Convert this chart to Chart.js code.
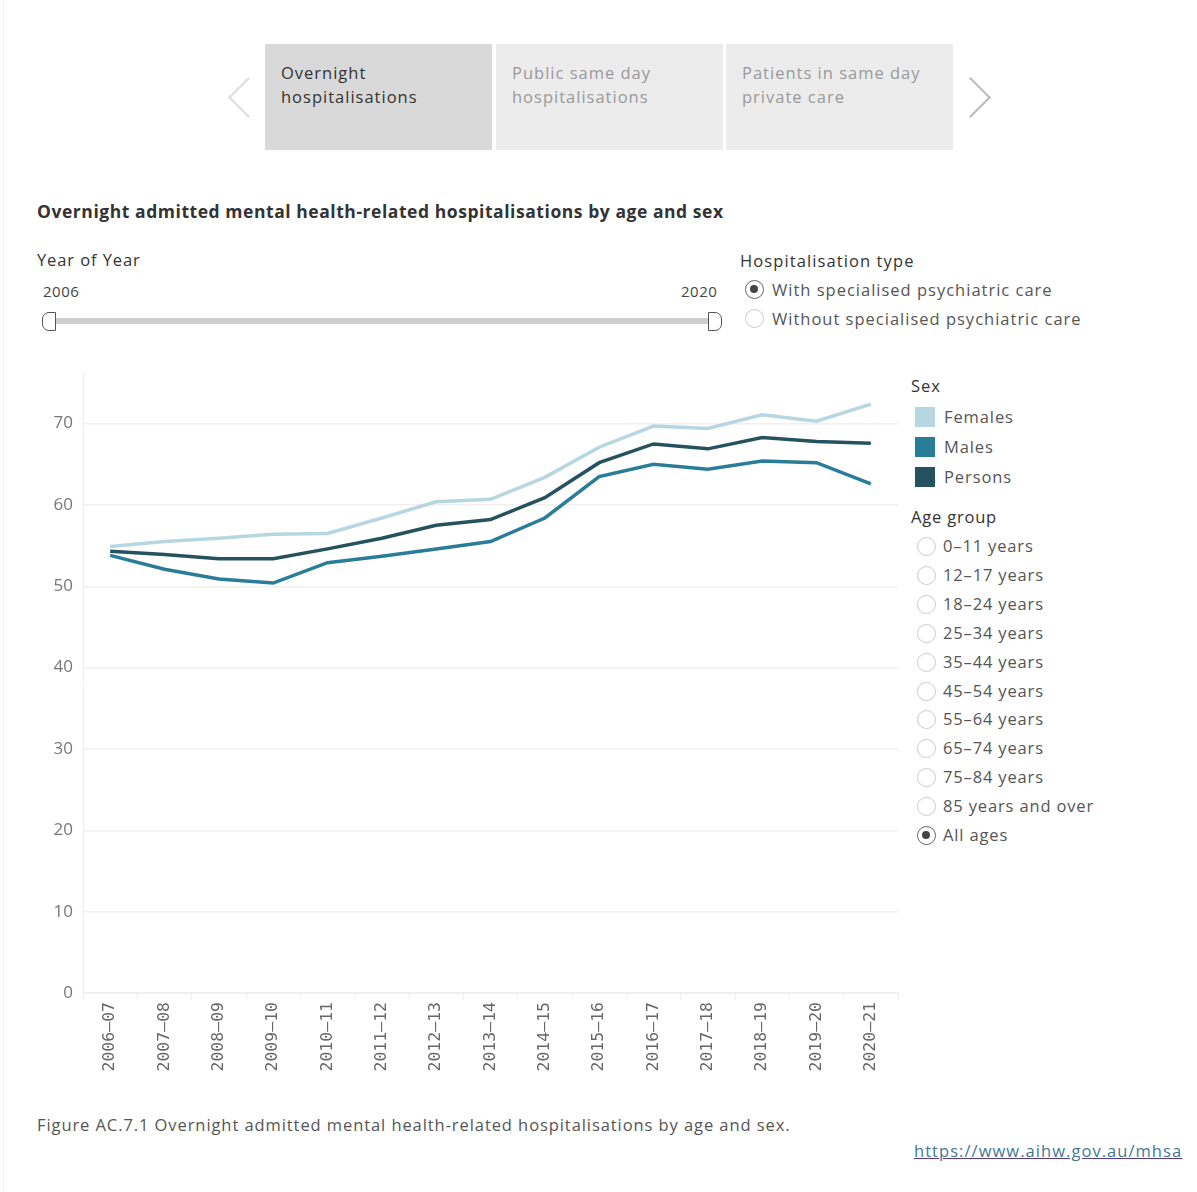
<!DOCTYPE html>
<html lang="en">
<head>
<meta charset="UTF-8">
<title>Overnight admitted mental health-related hospitalisations</title>
<script src="https://cdn.jsdelivr.net/npm/chart.js"></script>
<style>
  body { margin: 0; background: #fff; font-family: "Open Sans", Lato, sans-serif; color: #333; }
  .page { position: relative; width: 1197px; height: 1192px; overflow: hidden; }
  .frame { position: absolute; left: 3px; top: -2px; width: 1300px; height: 1300px; border: 1px solid #f0f0f0; }
  .abs { position: absolute; white-space: nowrap; }
  .tab { position: absolute; top: 44px; width: 227px; height: 106px; background: #ececec; color: #999; font-size: 16.5px; line-height: 24px; box-sizing: border-box; padding: 17px 16px; letter-spacing: 1px; }
  .tab.on { background: #d9d9d9; color: #333; }
  .chev { position: absolute; width: 27px; height: 27px; border-left: 2.5px solid #ddd; border-bottom: 2.5px solid #ddd; }
  .radio { position: absolute; width: 19px; height: 19px; border: 1.5px solid #ccc; border-radius: 50%; box-sizing: border-box; background: #fff; }
  .radio.on { border-color: #666; }
  .radio.on::after { content: ""; position: absolute; left: 4px; top: 4px; width: 8px; height: 8px; border-radius: 50%; background: #444; }
  .swatch { position: absolute; width: 20px; height: 20px; }
  #chartBox { position: absolute; left: 30px; top: 353px; width: 880px; height: 727px; }
</style>
</head>
<body>
<div class="page">
  <div class="frame"></div>

  <div class="chev" style="left:234px; top:83px; transform:rotate(45deg);"></div>
  <div class="tab on" style="left:265px;">Overnight<br>hospitalisations</div>
  <div class="tab" style="left:496px;">Public same day<br>hospitalisations</div>
  <div class="tab" style="left:726px;">Patients in same day<br>private care</div>
  <div class="chev" style="left:956px; top:83px; transform:rotate(225deg); border-color:#bbb;"></div>

  <div class="abs" style="left:37px; top:199px; font-size:17.5px; font-weight:bold; color:#333; letter-spacing:0.55px;">Overnight admitted mental health-related hospitalisations by age and sex</div>

  <div class="abs" style="left:37px; top:248px; font-size:16.5px; letter-spacing:0.9px;">Year of Year</div>
  <div class="abs" style="left:43px; top:281px; font-size:15px; color:#444; letter-spacing:0.5px;">2006</div>
  <div class="abs" style="left:681px; top:281px; font-size:15px; color:#444; letter-spacing:0.5px;">2020</div>
  <div class="abs" style="left:48px; top:318px; width:666px; height:6px; background:#cfcfcf;"></div>
  <div class="abs" style="left:42px; top:312px; width:12px; height:17px; border:1.5px solid #555; border-radius:7px 0 0 7px; background:#fff;"></div>
  <div class="abs" style="left:708px; top:312px; width:12px; height:17px; border:1.5px solid #555; border-radius:0 7px 7px 0; background:#fff;"></div>

  <div class="abs" style="left:740px; top:249px; font-size:16.5px; letter-spacing:1.1px;">Hospitalisation type</div>
  <div class="radio on" style="left:745px; top:280px;"></div>
  <div class="abs" style="left:772px; top:278px; font-size:16.5px; color:#555; letter-spacing:1px;">With specialised psychiatric care</div>
  <div class="radio" style="left:745px; top:309px;"></div>
  <div class="abs" style="left:772px; top:307px; font-size:16.5px; color:#555; letter-spacing:1px;">Without specialised psychiatric care</div>

  <div id="chartBox"><canvas id="trendChart"></canvas></div>

  <div class="abs" style="left:911px; top:374px; font-size:16.5px; letter-spacing:1px;">Sex</div>
  <div id="sexLegend"></div>

  <div class="abs" style="left:911px; top:505px; font-size:16.5px; letter-spacing:0.8px;">Age group</div>
  <div id="ageLegend"></div>

  <div class="abs" style="left:37px; top:1113px; font-size:16.5px; color:#555; letter-spacing:0.92px;">Figure AC.7.1 Overnight admitted mental health-related hospitalisations by age and sex.</div>
  <div class="abs" style="left:914px; top:1139px; font-size:16.5px; color:#3f7899; letter-spacing:1.05px; text-decoration:underline; text-decoration-color:#5b3a8c;">https://www.aihw.gov.au/mhsa</div>
</div>

<script>
// financial years on the x axis
const years = ["2006–07", "2007–08", "2008–09", "2009–10", "2010–11", "2011–12", "2012–13",
               "2013–14", "2014–15", "2015–16", "2016–17", "2017–18", "2018–19", "2019–20", "2020–21"];

// rate per 10,000 population
const females = [54.9, 55.5, 55.9, 56.4, 56.5, 58.4, 60.4, 60.7, 63.4, 67.1, 69.7, 69.4, 71.1, 70.3, 72.4];
const males   = [53.8, 52.1, 50.9, 50.4, 52.9, 53.7, 54.6, 55.5, 58.4, 63.5, 65.0, 64.4, 65.4, 65.2, 62.6];
const persons = [54.3, 53.9, 53.4, 53.4, 54.6, 55.9, 57.5, 58.2, 60.9, 65.2, 67.5, 66.9, 68.3, 67.8, 67.6];

const sexLabels = ["Females", "Males", "Persons"];
const sexColours = ["#b6d7e1", "#2a7d98", "#25525f"];

const ageGroups = ["0–11 years", "12–17 years", "18–24 years", "25–34 years", "35–44 years", "45–54 years",
                   "55–64 years", "65–74 years", "75–84 years", "85 years and over", "All ages"];
const selectedAge = "All ages";

// legends on the right
const sexLegend = document.getElementById("sexLegend");
sexLabels.forEach((name, i) => {
    const top = 407 + i * 30;
    sexLegend.insertAdjacentHTML("beforeend",
        `<div class="swatch" style="left:915px; top:${top}px; background:${sexColours[i]};"></div>` +
        `<div class="abs" style="left:944px; top:${top - 2}px; font-size:16.5px; color:#555; letter-spacing:0.9px;">${name}</div>`);
});

const ageLegend = document.getElementById("ageLegend");
ageGroups.forEach((name, i) => {
    const top = 546 + i * 28.9;
    const on = name === selectedAge ? " on" : "";
    ageLegend.insertAdjacentHTML("beforeend",
        `<div class="radio${on}" style="left:917px; top:${top - 9}px;"></div>` +
        `<div class="abs" style="left:943px; top:${top - 12}px; font-size:16.5px; color:#555; letter-spacing:0.85px;">${name}</div>`);
});

// chart
const series = [females, males, persons];
new Chart(document.getElementById("trendChart"), {
    type: "line",
    data: {
        labels: years,
        datasets: series.map((values, i) => ({
            label: sexLabels[i],
            data: values,
            borderColor: sexColours[i],
            borderWidth: 3.5,
            pointRadius: 0,
            tension: 0,
            fill: false,
            order: i === 0 ? 3 : (i === 1 ? 2 : 1)
        }))
    },
    options: {
        responsive: true,
        maintainAspectRatio: false,
        animation: false,
        layout: { padding: { top: 5, right: 12, left: 0, bottom: 0 } },
        plugins: { legend: { display: false }, tooltip: { enabled: false } },
        scales: {
            x: {
                offset: true,
                grid: { offset: true, drawOnChartArea: false, drawTicks: true, tickLength: 7, color: "#eeeeee" },
                border: { color: "#eeeeee" },
                ticks: {
                    font: { family: "DejaVu Sans Mono, monospace", size: 16.5 },
                    color: "#666",
                    minRotation: 90,
                    maxRotation: 90,
                    autoSkip: false,
                    padding: 2
                },
                afterFit: scale => { scale.height = 87; }
            },
            y: {
                min: 0,
                max: 76.2,
                grid: { color: "#f0f0f0", drawTicks: false, lineWidth: 1.5 },
                border: { display: true, color: "#eeeeee" },
                afterBuildTicks: scale => {
                    scale.ticks = scale.ticks.filter(t => t.value % 10 === 0);
                },
                ticks: {
                    stepSize: 10,
                    font: { family: "Open Sans, sans-serif", size: 17 },
                    color: "#777",
                    padding: 10
                },
                afterFit: scale => { scale.width = 53; }
            }
        }
    }
});
</script>
</body>
</html>
